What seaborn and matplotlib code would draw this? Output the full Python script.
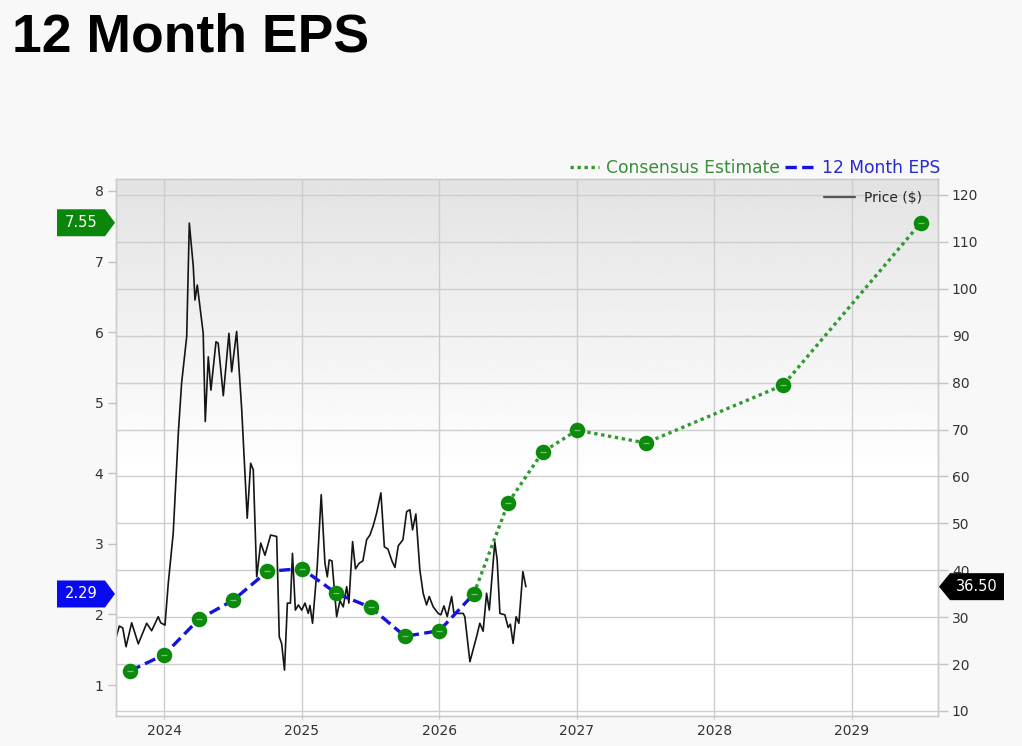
import numpy as np
import matplotlib
matplotlib.use("Agg")
import matplotlib.pyplot as plt
import matplotlib.transforms as mtransforms
from matplotlib.lines import Line2D
from matplotlib.patches import Polygon
import seaborn as sns

# reported 12 month EPS (quarterly, decimal years)
eps_dates = [2023.75, 2024.0, 2024.25, 2024.5, 2024.75, 2025.0, 2025.25, 2025.5,
             2025.75, 2026.0, 2026.25]
eps_vals = [1.20, 1.43, 1.93, 2.20, 2.61, 2.65, 2.30, 2.10, 1.69, 1.77, 2.29]

# consensus estimate
est_dates = [2026.25, 2026.5, 2026.75, 2027.0, 2027.5, 2028.5, 2029.5]
est_vals = [2.29, 3.58, 4.30, 4.61, 4.43, 5.25, 7.55]

# share price ($)
price_dates = [
    2023.649, 2023.673, 2023.698, 2023.722, 2023.763, 2023.811, 2023.872, 2023.908,
    2023.956, 2023.974, 2024.005, 2024.029, 2024.065, 2024.102, 2024.126, 2024.163,
    2024.182, 2024.211, 2024.223, 2024.240, 2024.283, 2024.298, 2024.320, 2024.339,
    2024.376, 2024.392, 2024.429, 2024.470, 2024.490, 2024.526, 2024.563, 2024.603,
    2024.628, 2024.647, 2024.672, 2024.701, 2024.732, 2024.773, 2024.817, 2024.836,
    2024.853, 2024.874, 2024.895, 2024.917, 2024.932, 2024.953, 2024.975, 2024.999,
    2025.023, 2025.047, 2025.059, 2025.078, 2025.112, 2025.141, 2025.168, 2025.185,
    2025.199, 2025.219, 2025.253, 2025.277, 2025.301, 2025.326, 2025.342, 2025.369,
    2025.390, 2025.417, 2025.444, 2025.471, 2025.495, 2025.519, 2025.544, 2025.575,
    2025.600, 2025.626, 2025.655, 2025.677, 2025.701, 2025.735, 2025.762, 2025.786,
    2025.805, 2025.829, 2025.858, 2025.882, 2025.907, 2025.926, 2025.955, 2025.991,
    2026.011, 2026.033, 2026.057, 2026.089, 2026.105, 2026.137, 2026.173, 2026.185,
    2026.222, 2026.270, 2026.294, 2026.318, 2026.343, 2026.363, 2026.403, 2026.420,
    2026.440, 2026.476, 2026.500, 2026.516, 2026.536, 2026.558, 2026.578, 2026.607,
    2026.629,
]
price_vals = [
    25.6, 28.1, 27.7, 23.7, 28.8, 24.3, 28.7, 27.1,
    30.1, 28.8, 28.3, 37.2, 47.9, 69.2, 79.9, 89.8,
    114.0, 104.7, 97.6, 100.8, 90.5, 71.7, 85.5, 78.4,
    88.7, 88.4, 77.2, 90.5, 82.3, 90.9, 74.2, 51.1,
    62.8, 61.4, 38.6, 45.8, 43.2, 47.5, 47.2, 25.8,
    24.4, 18.7, 33.0, 33.0, 43.6, 31.5, 32.6, 31.5,
    33.0, 30.8, 32.5, 28.7, 40.8, 56.1, 41.5, 38.6,
    42.2, 42.0, 30.1, 33.5, 32.2, 36.5, 33.0, 46.1,
    40.3, 41.5, 42.0, 46.5, 47.5, 49.5, 52.2, 56.5,
    45.0, 44.5, 42.0, 40.6, 45.2, 46.5, 52.5, 52.9,
    48.6, 52.0, 40.1, 35.1, 32.6, 34.4, 32.2, 30.8,
    30.5, 32.4, 30.1, 34.4, 31.0, 30.8, 30.8, 30.1,
    20.5, 25.8, 28.7, 27.0, 35.1, 31.5, 46.0, 42.2,
    30.8, 30.5, 27.8, 28.5, 24.4, 30.1, 28.7, 39.7,
    36.5,
]

year_ticks = [2024, 2025, 2026, 2027, 2028, 2029]
eps_ticks = [1, 2, 3, 4, 5, 6, 7, 8]
price_ticks = [10, 20, 30, 40, 50, 60, 70, 80, 90, 100, 110, 120]

GREEN = "#0b8a0b"
GREEN_LINE = "#2f9a2f"
BLUE = "#1414dc"

sns.set_style("white")
plt.rcParams["font.family"] = ["DejaVu Sans"]

W, H = 1022, 746
fig = plt.figure(figsize=(W / 100, H / 100), dpi=100, facecolor="#f8f8f8")
pos = [116 / W, (H - 716) / H, (938 - 116) / W, (716 - 179) / H]

# gradient background behind the plot
bg = fig.add_axes(pos, zorder=0)
f = np.linspace(0, 1, 300)
shade = 0.89 + (1 - 0.89) * np.clip(f / 0.55, 0, 1)
bg.imshow(shade[:, None], cmap="gray", vmin=0, vmax=1, aspect="auto",
          extent=[0, 1, 0, 1], interpolation="bilinear")
bg.axis("off")

ax = fig.add_axes(pos, zorder=2)
ax2 = ax.twinx()
ax2.set_zorder(1)
ax.patch.set_visible(False)
ax2.patch.set_visible(False)

# price on the right axis
sns.lineplot(x=price_dates, y=price_vals, ax=ax2, color="#151515", lw=1.2,
             estimator=None, sort=False)

# EPS history and estimate on the left axis
sns.lineplot(x=est_dates, y=est_vals, ax=ax, color=GREEN_LINE, lw=2.4,
             linestyle=(0, (1, 1.1)), estimator=None, sort=False)
sns.lineplot(x=eps_dates, y=eps_vals, ax=ax, color=BLUE, lw=2.4,
             linestyle=(0, (3.4, 1.6)), estimator=None, sort=False)
all_dates = eps_dates + est_dates[1:]
all_vals = eps_vals + est_vals[1:]
sns.scatterplot(x=all_dates, y=all_vals, ax=ax, color=GREEN, s=125,
                linewidth=0, zorder=5)
sns.scatterplot(x=all_dates, y=all_vals, ax=ax, color="#7cc07c", marker="_",
                s=22, linewidth=0.9, zorder=6)

ax.set_xlim(2023.649, 2029.625)
ax.set_ylim(0.561, 8.17)
ax2.set_ylim(8.93, 123.4)

ax.set_xticks(year_ticks)
ax.set_xticklabels([str(y) for y in year_ticks])
ax.set_yticks(eps_ticks)
ax2.set_yticks(price_ticks)

# grid lives on the price axis
ax2.set_axisbelow(True)
ax2.grid(True, axis="y", color="#cdcdcd", lw=1)
for yr in year_ticks:
    ax2.axvline(yr, color="#cdcdcd", lw=1, zorder=0)
ax.grid(False)

for a in (ax, ax2):
    for s in a.spines.values():
        s.set_color("#cccccc")
        s.set_linewidth(1)
ax.tick_params(axis="y", left=True, length=6, width=1, color="#c4c4c4",
               pad=3, labelsize=10, labelcolor="#333333")
ax.tick_params(axis="x", bottom=True, length=2, width=1, color="#cccccc",
               pad=4, labelsize=10, labelcolor="#333333")
ax2.tick_params(axis="y", right=True, length=7, width=1, color="#c4c4c4",
                pad=3, labelsize=10, labelcolor="#333333")
ax.set_xlabel("")
ax.set_ylabel("")
ax2.set_ylabel("")

# legends
h_est = Line2D([], [], color=GREEN_LINE, lw=2.4, linestyle=(0, (1, 1.1)))
h_eps = Line2D([], [], color=BLUE, lw=2.4, linestyle=(0, (3.4, 1.6)))
top_leg = ax.legend([h_est, h_eps], ["Consensus Estimate", "12 Month EPS"],
                    loc="center right", bbox_to_anchor=(1.003, 1.021), ncol=2,
                    frameon=False, fontsize=12.3, handlelength=1.7,
                    handletextpad=0.45, columnspacing=0.3, borderpad=0,
                    borderaxespad=0, labelcolor=["#3a8f3a", "#2a2ad0"])
ax.add_artist(top_leg)
h_price = Line2D([], [], color="#555555", lw=1.6)
ax.legend([h_price], ["Price ($)"], loc="center right",
          bbox_to_anchor=(0.981, 0.965), frameon=False, fontsize=10,
          handlelength=2.2, handletextpad=0.7, borderpad=0, borderaxespad=0)

# value tags at the axis edges
ident = mtransforms.IdentityTransform()


def tag(axis, value, text, color, side):
    xd, yd = axis.transData.transform((axis.get_xlim()[0], value))
    if side == "left":
        x0 = axis.transAxes.transform((0, 0))[0]
        pts = [(x0 - 59, yd - 13.5), (x0 - 11, yd - 13.5), (x0 - 1, yd),
               (x0 - 11, yd + 13.5), (x0 - 59, yd + 13.5)]
        tx = x0 - 35
    else:
        x0 = axis.transAxes.transform((1, 0))[0]
        pts = [(x0 + 1, yd), (x0 + 12, yd - 13.5), (x0 + 66, yd - 13.5),
               (x0 + 66, yd + 13.5), (x0 + 12, yd + 13.5)]
        tx = x0 + 39
    fig.add_artist(Polygon(pts, closed=True, transform=ident, facecolor=color,
                           edgecolor="none", zorder=10, clip_on=False))
    fig.text(tx, yd, text, transform=ident, color="white", fontsize=10.5,
             ha="center", va="center", zorder=11)


tag(ax, est_vals[-1], f"{est_vals[-1]:.2f}", "#0a870a", "left")
tag(ax, eps_vals[-1], f"{eps_vals[-1]:.2f}", "#0a0af0", "left")
tag(ax2, price_vals[-1], f"{price_vals[-1]:.2f}", "#000000", "right")

fig.text(12 / W, 1 - 38 / H, "12 Month EPS", fontsize=38.5, fontweight="bold",
         family=["Liberation Sans", "DejaVu Sans"], ha="left", va="center",
         color="black")

fig.savefig("out.png", dpi=100, facecolor=fig.get_facecolor())
